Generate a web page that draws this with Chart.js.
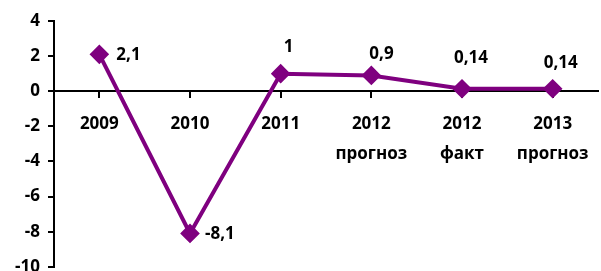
<!DOCTYPE html>
<html>
<head>
<meta charset="utf-8">
<script src="https://cdn.jsdelivr.net/npm/chart.js@4/dist/chart.umd.min.js"></script>
<style>
  html, body { margin: 0; padding: 0; background: #fff; overflow: hidden; }
  #wrap { width: 601px; height: 285px; position: relative; }
</style>
</head>
<body>
<div id="wrap"><canvas id="chart"></canvas></div>
<script>
// categories (multi-line labels)
const categories = [['2009'], ['2010'], ['2011'], ['2012', 'прогноз'], ['2012', 'факт'], ['2013', 'прогноз']];
// series values
const growth = [2.1, -8.1, 1, 0.9, 0.14, 0.14];
// value labels as shown on the chart
const growthLabels = ['2,1', '-8,1', '1', '0,9', '0,14', '0,14'];
// y tick range
const yMin = -10;
const yMax = 4;
const yStep = 2;

const purple = '#7f007f';
const fontFamily = '"Open Sans", Lato, sans-serif';

// little plugin to draw the value labels next to the points
const valueLabels = {
    id: 'valueLabels',
    afterDatasetsDraw(chart, args, opts) {
        const ctx = chart.ctx;
        const meta = chart.getDatasetMeta(0);
        ctx.save();
        ctx.font = 'bold 17px ' + fontFamily;
        ctx.fillStyle = '#000';
        ctx.textAlign = 'left';
        ctx.textBaseline = 'middle';
        meta.data.forEach((pt, i) => {
            const off = opts.offsets[i];
            ctx.fillText(growthLabels[i], pt.x + off[0], pt.y + off[1]);
        });
        ctx.restore();
    }
};

new Chart(document.getElementById('chart'), {
    type: 'line',
    data: {
        labels: categories,
        datasets: [{
            data: growth,
            borderColor: purple,
            backgroundColor: purple,
            borderWidth: 4,
            pointStyle: 'rectRot',
            pointRadius: 7,
            pointHoverRadius: 7,
            tension: 0
        }]
    },
    options: {
        responsive: true,
        maintainAspectRatio: false,
        animation: false,
        layout: { autoPadding: false, padding: { top: 21, right: 3, bottom: 6, left: 0 } },
        plugins: {
            legend: { display: false },
            tooltip: { enabled: false },
            valueLabels: {
                offsets: [[17, 1], [15, 1], [3, -27], [-2, -21], [-8, -31], [-9, -26]]
            }
        },
        scales: {
            x: {
                type: 'category',
                position: { y: 0 },
                offset: true,
                afterFit: (scale) => { scale.height = 0; },
                grid: {
                    display: true,
                    drawOnChartArea: false,
                    drawTicks: true,
                    tickLength: 6,
                    color: '#000',
                    lineWidth: 2
                },
                border: { color: '#000', width: 2 },
                ticks: {
                    color: '#000',
                    padding: 12,
                    maxRotation: 0,
                    font: { family: fontFamily, size: 17, weight: 'bold', lineHeight: 1.76 }
                }
            },
            y: {
                min: yMin,
                max: yMax,
                afterFit: (scale) => { scale.width = 54; },
                grid: {
                    display: true,
                    drawOnChartArea: false,
                    drawTicks: true,
                    tickLength: 6,
                    color: '#000',
                    lineWidth: 2
                },
                border: { color: '#000', width: 2 },
                ticks: {
                    stepSize: yStep,
                    color: '#000',
                    padding: 8,
                    font: { family: fontFamily, size: 17, weight: 'bold' }
                }
            }
        }
    },
    plugins: [valueLabels]
});
</script>
</body>
</html>
